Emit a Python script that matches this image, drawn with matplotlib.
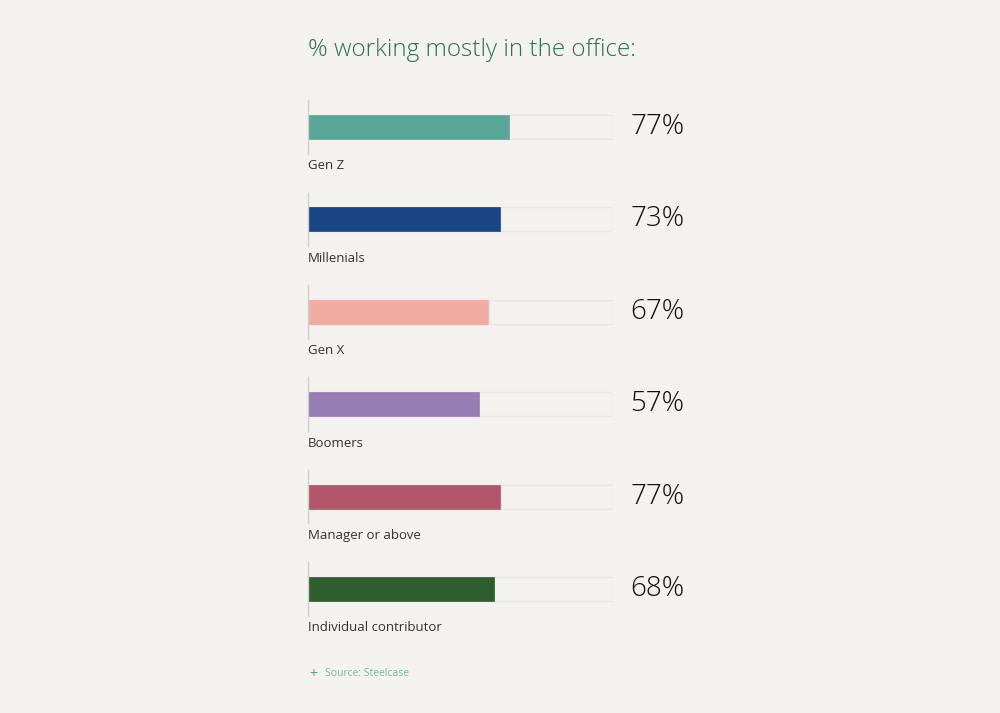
import matplotlib
matplotlib.use("Agg")
import matplotlib.pyplot as plt

categories = ["Gen Z", "Millenials", "Gen X", "Boomers", "Manager or above", "Individual contributor"]
values = [77, 73, 67, 57, 77, 68]
bar_lengths = [66, 63, 59, 56, 63, 61]  # drawn bar lengths (% of track)
colors = ["#58a89a", "#184586", "#f2aba2", "#967db3", "#b3566c", "#2e5e2e"]
title = "% working mostly in the office:"
source = "Source: Steelcase"

plt.rcParams["font.family"] = "Open Sans"
bg = "#f3f2ee"
fig = plt.figure(figsize=(10, 7.13), dpi=100, facecolor=bg)
ax = fig.add_axes([0.308, 1 - 635.2 / 713, 0.305, (635.2 - 80.8) / 713])
ax.set_facecolor(bg)
ax.set_xlim(0, 100)
ax.set_ylim(len(categories) - 0.5, -0.5)
ax.axis("off")

h = 0.26
for i, (c, v, b, col) in enumerate(zip(categories, values, bar_lengths, colors)):
    ax.barh(i, 100, height=h, color="none", edgecolor="#e6e5e1", linewidth=1)
    ax.barh(i, b, height=h, color=col, edgecolor=col, linewidth=0.5)
    ax.plot([0, 0], [i - 0.29, i + 0.29], color="#cfcfcc", lw=1, clip_on=False)
    ax.text(0, i + 0.42, c, fontsize=9.5, color="#333333", va="center", ha="left")
    ax.text(105.6, i, f"{v}%", fontsize=20, color="#111111", va="center", ha="left",
            fontweight="light")

fig.text(0.308, 1 - 50 / 713, title, fontsize=17.5, color="#2e6e5e", va="center", ha="left",
         fontweight="light")
fig.text(0.309, 1 - 674 / 713, "+", fontsize=10, color="#5a9a8a", va="center", ha="left")
fig.text(0.325, 1 - 674 / 713, source, fontsize=7.5, color="#7fb0a4", va="center", ha="left")

fig.savefig("out.png", facecolor=bg)
